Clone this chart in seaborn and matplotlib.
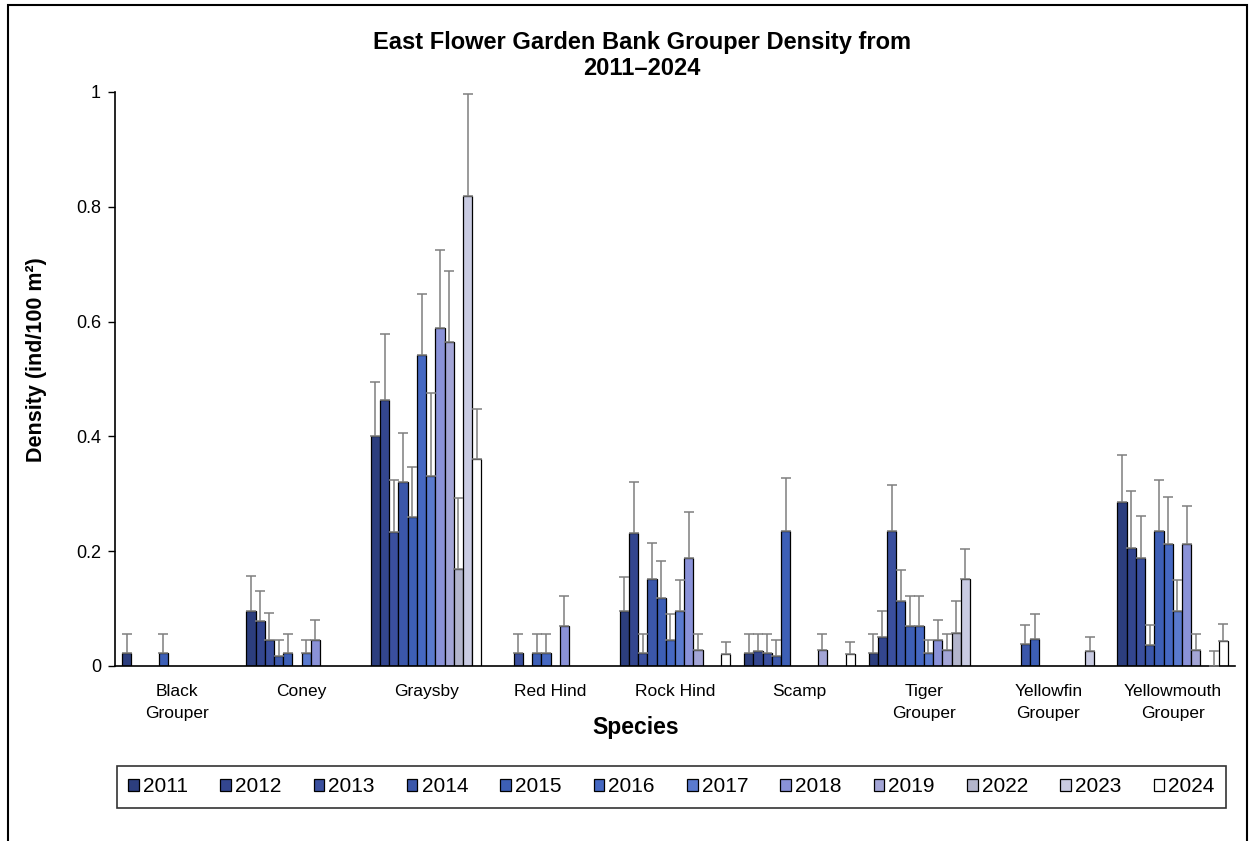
import matplotlib
matplotlib.use('Agg')
import pandas as pd
import matplotlib.pyplot as plt
import seaborn as sns
from matplotlib.patches import Patch, Rectangle
from matplotlib.colors import to_hex

# categories and years
species = ['Black Grouper', 'Coney', 'Graysby', 'Red Hind', 'Rock Hind',
           'Scamp', 'Tiger Grouper', 'Yellowfin Grouper', 'Yellowmouth Grouper']
tick_labels = ['Black\nGrouper', 'Coney', 'Graysby', 'Red Hind', 'Rock Hind',
               'Scamp', 'Tiger\nGrouper', 'Yellowfin\nGrouper', 'Yellowmouth\nGrouper']
years = ['2011', '2012', '2013', '2014', '2015', '2016', '2017', '2018',
         '2019', '2022', '2023', '2024']
year_colors = ['#2c3e7e', '#33468f', '#3a4f9e', '#3b57aa', '#3d5fb6', '#4568c2',
               '#5a7ace', '#8a92d8', '#a3a5d6', '#b3b5cc', '#c9cbe2', '#ffffff']

# mean density per year (None = no bar)
black_grouper = [0.023, None, None, None, 0.023, None, None, None, None, None, None, None]
coney = [0.095, 0.078, 0.046, 0.018, 0.023, None, 0.023, 0.046, None, None, None, None]
graysby = [0.40, 0.463, 0.234, 0.32, 0.26, 0.542, 0.331, 0.588, 0.565, 0.169, 0.819, 0.36]
red_hind = [None, None, 0.023, None, 0.023, 0.023, None, 0.07, None, None, None, None]
rock_hind = [0.095, 0.232, 0.023, 0.151, 0.118, 0.046, 0.096, 0.189, 0.028, None, None, 0.021]
scamp = [0.023, 0.026, 0.023, 0.017, 0.235, None, None, None, 0.028, None, None, 0.021]
tiger_grouper = [0.023, 0.051, 0.235, 0.113, 0.07, 0.07, 0.023, 0.046, 0.028, 0.057, 0.151, None]
yellowfin_grouper = [None, None, None, 0.038, 0.047, None, None, None, None, None, 0.026, None]
yellowmouth_grouper = [0.285, 0.206, 0.189, 0.037, 0.235, 0.212, 0.096, 0.212, 0.028, None, 0.0, 0.044]

# standard error (upper bar only)
black_grouper_se = [0.033, None, None, None, 0.033, None, None, None, None, None, None, None]
coney_se = [0.061, 0.052, 0.046, 0.027, 0.033, None, 0.023, 0.034, None, None, None, None]
graysby_se = [0.095, 0.115, 0.09, 0.086, 0.087, 0.106, 0.144, 0.136, 0.123, 0.123, 0.178, 0.088]
red_hind_se = [None, None, 0.033, None, 0.033, 0.033, None, 0.052, None, None, None, None]
rock_hind_se = [0.06, 0.088, 0.033, 0.064, 0.065, 0.044, 0.054, 0.08, 0.028, None, None, 0.021]
scamp_se = [0.033, 0.03, 0.033, 0.028, 0.093, None, None, None, 0.028, None, None, 0.021]
tiger_grouper_se = [0.033, 0.045, 0.08, 0.055, 0.052, 0.052, 0.023, 0.034, 0.028, 0.057, 0.053, None]
yellowfin_grouper_se = [None, None, None, 0.033, 0.043, None, None, None, None, None, 0.025, None]
yellowmouth_grouper_se = [0.083, 0.099, 0.073, 0.034, 0.089, 0.082, 0.054, 0.067, 0.028, None, 0.026, 0.029]

means = [black_grouper, coney, graysby, red_hind, rock_hind, scamp,
         tiger_grouper, yellowfin_grouper, yellowmouth_grouper]
ses = [black_grouper_se, coney_se, graysby_se, red_hind_se, rock_hind_se, scamp_se,
       tiger_grouper_se, yellowfin_grouper_se, yellowmouth_grouper_se]

rows = []
for sp, m_list, s_list in zip(species, means, ses):
    for yr, m, s in zip(years, m_list, s_list):
        if m is not None:
            rows.append({'species': sp, 'year': yr, 'density': m, 'se': s})
df = pd.DataFrame(rows)

sns.set_style('white')
plt.rcParams['font.family'] = ['Liberation Sans', 'DejaVu Sans']
plt.rcParams['text.color'] = 'black'
plt.rcParams['axes.labelcolor'] = 'black'
plt.rcParams['xtick.color'] = 'black'
plt.rcParams['ytick.color'] = 'black'

fig, ax = plt.subplots(figsize=(12.53, 8.41), dpi=100)
fig.subplots_adjust(left=115/1253, right=1235/1253, bottom=1-666/841, top=1-92/841)

palette = dict(zip(years, year_colors))
sns.barplot(data=df, x='species', y='density', hue='year', order=species,
            hue_order=years, palette=palette, saturation=1, width=12/13.5,
            edgecolor='black', linewidth=0.9, errorbar=None, legend=False, ax=ax)

# error bars on top of the seaborn bars
color_to_year = {to_hex(c): y for y, c in palette.items()}
se_lookup = {(r.species, r.year): r.se for r in df.itertuples()}
for p in ax.patches:
    xc = p.get_x() + p.get_width() / 2
    yr = color_to_year.get(to_hex(p.get_facecolor()))
    sp = species[int(round(xc))]
    se = se_lookup.get((sp, yr))
    if se is None:
        continue
    ax.errorbar(xc, p.get_height(), yerr=[[0], [se]], fmt='none', ecolor='#7f7f7f',
                elinewidth=1.1, capsize=3.5, capthick=1.1, zorder=3)

ax.set_xlim(-0.5, 8.5)
ax.set_ylim(0, 1)
ax.set_yticks([0, 0.2, 0.4, 0.6, 0.8, 1.0])
ax.set_yticklabels(['0', '0.2', '0.4', '0.6', '0.8', '1'], fontsize=13)
ax.set_xticks(range(len(species)))
ax.set_xticklabels(tick_labels, fontsize=12.5, linespacing=1.55)
ax.set_xticks([i - 0.5 for i in range(len(species) + 1)], minor=True)
ax.tick_params(axis='x', which='major', length=0, pad=13)
ax.tick_params(axis='x', which='minor', length=6, width=1, direction='out', color='black')
ax.tick_params(axis='y', length=5, width=1, direction='out', color='black', left=True, pad=5)
for s in ['top', 'right']:
    ax.spines[s].set_visible(False)
for s in ['left', 'bottom']:
    ax.spines[s].set_color('black')
    ax.spines[s].set_linewidth(1.2)

ax.set_xlabel('Species', fontsize=16.5, fontweight='bold')
ax.xaxis.set_label_coords((636 - 115) / 1120, -(716 - 666) / 574)
ax.set_ylabel('Density (ind/100 m²)', fontsize=15.5, fontweight='bold')
ax.yaxis.set_label_coords(-(115 - 47) / 1120, (666 - 360) / 574)

fig.text(642/1253, 1 - 31/841, 'East Flower Garden Bank Grouper Density from\n2011–2024',
         ha='center', va='top', fontsize=17, fontweight='bold', linespacing=1.15)

handles = [Patch(facecolor=c, edgecolor='black', linewidth=0.9) for c in year_colors]
leg = fig.legend(handles, years, loc='center', ncol=12,
                 bbox_to_anchor=((115 + 1228) / 2 / 1253, 1 - 787/841),
                 fontsize=15, frameon=True, fancybox=False, edgecolor='black',
                 handlelength=0.5, handleheight=0.5, handletextpad=0.2,
                 columnspacing=1.55, borderpad=0.55, borderaxespad=0)
leg.get_frame().set_linewidth(1.2)

# outer frame around the whole image
fig.patches.append(Rectangle((8/1253, -0.01), (1247-8)/1253, 1.01 - 5/841,
                             transform=fig.transFigure, fill=False,
                             edgecolor='black', linewidth=1.5))

fig.savefig('out.png', dpi=100)
